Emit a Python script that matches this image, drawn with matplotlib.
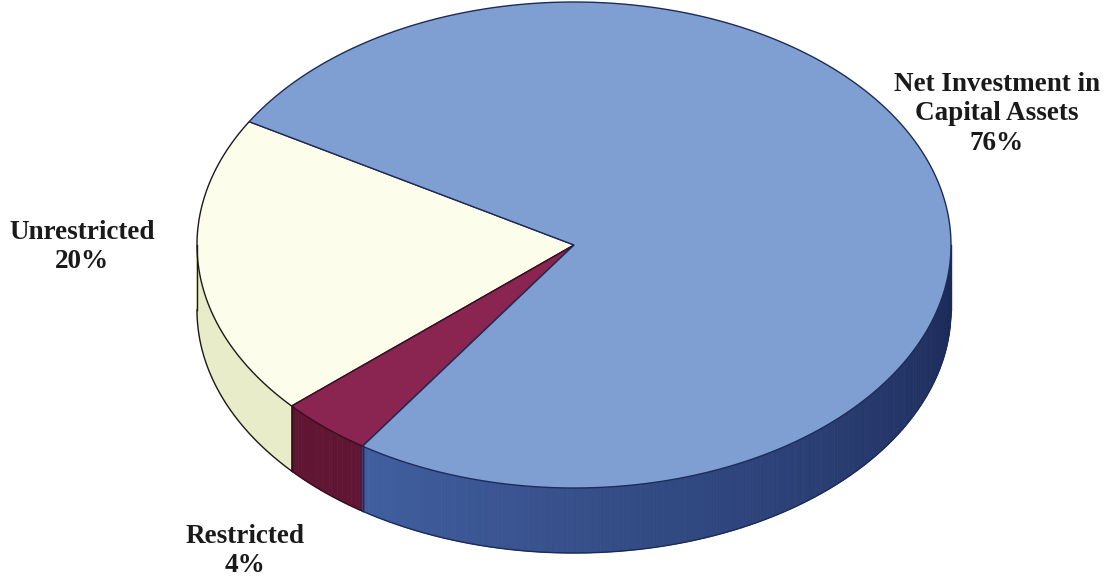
import numpy as np
import matplotlib
matplotlib.use("Agg")
import matplotlib.pyplot as plt
from matplotlib.patches import Polygon

# chart data
labels = ["Unrestricted", "Restricted", "Net Investment in\nCapital Assets"]
values = [20, 4, 76]
topColors = ["#fdfdeb", "#8a2450", "#7f9fd3"]
edgeColors = ["#1a1a1a", "#3a0c20", "#1c2c5a"]

# pie geometry in pixels
cx, cy = 574, 245
a, b = 377, 243
depth = 65
startAngle = 149.5


def pt(t):
	r = np.radians(t)
	return cx + a * np.cos(r), cy - b * np.sin(r)


def sideColor(i, t):
	if i == 0:
		return np.array([233, 236, 200]) / 255
	if i == 1:
		return np.array([96, 22, 50]) / 255
	f = np.clip((t - 237) / 123, 0, 1)
	c0 = np.array([64, 94, 158])
	c1 = np.array([26, 40, 86])
	return (c0 + (c1 - c0) * f) / 255


fig = plt.figure(figsize=(11.06, 5.81), dpi=100)
ax = fig.add_axes([0, 0, 1, 1])
ax.set_xlim(0, 1106)
ax.set_ylim(581, 0)
ax.axis('off')

fracs = np.array(values) / sum(values)
bounds = startAngle + 360 * np.concatenate([[0], np.cumsum(fracs)])

# side walls (front half only)
for i in range(len(values)):
	t0, t1 = bounds[i], bounds[i + 1]
	for off in [0, 360, -360]:
		s0, s1 = max(t0 + off, 180), min(t1 + off, 360)
		if s1 <= s0:
			continue
		ts = np.linspace(s0, s1, max(int((s1 - s0) * 2), 2))
		for k in range(len(ts) - 1):
			xa, ya = pt(ts[k])
			xb, yb = pt(ts[k + 1])
			col = sideColor(i, ts[k])
			ax.add_patch(Polygon([(xa, ya), (xb, yb), (xb, yb + depth), (xa, ya + depth)],
				closed=True, facecolor=col, edgecolor=col, lw=0.6))
		xs, ys = zip(*[pt(t) for t in ts])
		ys = np.array(ys)
		ax.plot(xs, ys + depth, color=edgeColors[i], lw=1)
		for t in [s0, s1]:
			x, y = pt(t)
			ax.plot([x, x], [y, y + depth], color=edgeColors[i], lw=1)

# top faces
for i in range(len(values)):
	ts = np.linspace(bounds[i], bounds[i + 1], 300)
	pts = [(cx, cy)] + [pt(t) for t in ts]
	ax.add_patch(Polygon(pts, closed=True, facecolor=topColors[i],
		edgecolor=edgeColors[i], lw=1, joinstyle='round'))

# labels
font = dict(family='Liberation Serif', fontweight='bold', fontsize=19.5, color='#1a1a1a',
	ha='center', va='center', linespacing=1.25)
ax.text(82, 247, f"{labels[0]}\n{values[0]}%", **font)
ax.text(245, 551, f"{labels[1]}\n{values[1]}%", **font)
ax.text(997, 114, f"{labels[2]}\n{values[2]}%", **font)

plt.savefig("out.png", dpi=100)
